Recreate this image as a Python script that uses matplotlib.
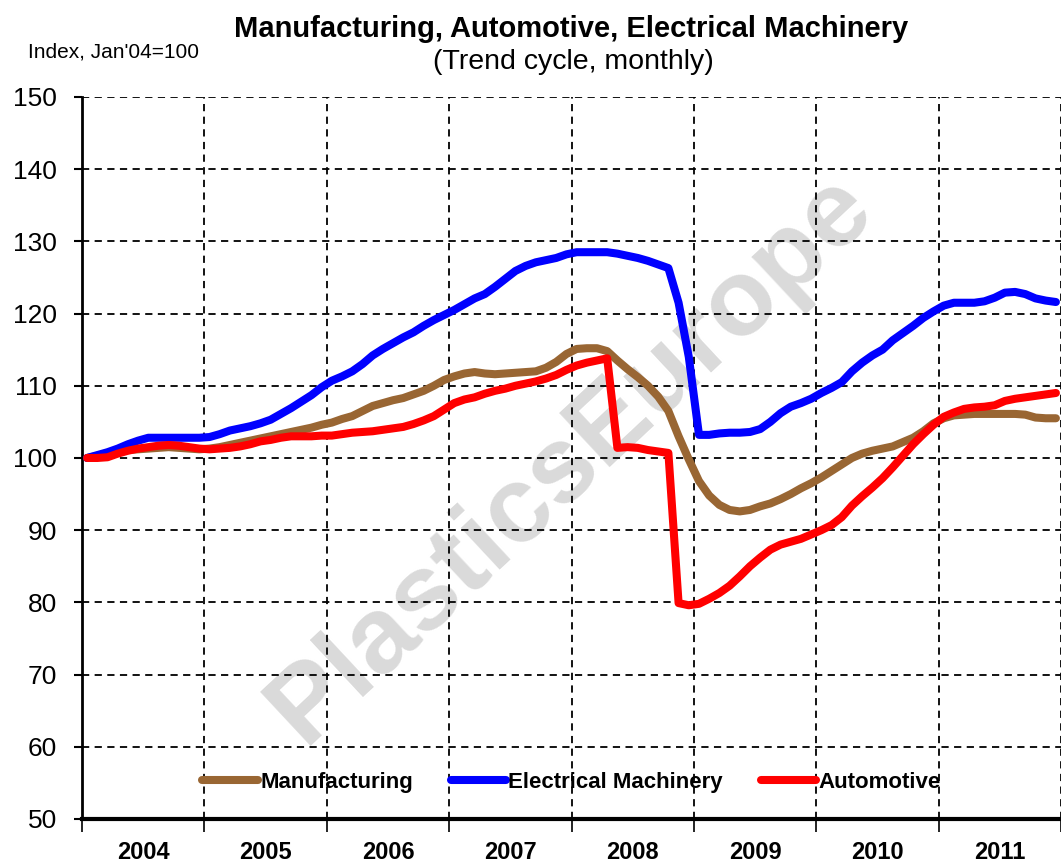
import matplotlib.pyplot as plt
import numpy as np

plt.rcParams['font.family'] = ['Liberation Sans', 'DejaVu Sans']

years = ['2004', '2005', '2006', '2007', '2008', '2009', '2010', '2011']

# monthly index values, Jan 2004 .. Dec 2011 (Jan'04 = 100)
manufacturing = [
    100, 100.3, 100.6, 100.9, 101.1, 101.2, 101.3, 101.4, 101.5, 101.4, 101.3, 101.2,
    101.3, 101.5, 101.8, 102.1, 102.4, 102.7, 103, 103.3, 103.6, 103.9, 104.2, 104.6,
    104.9, 105.4, 105.8, 106.5, 107.2, 107.6, 108, 108.3, 108.8, 109.3, 110, 110.8,
    111.3, 111.7, 111.9, 111.7, 111.6, 111.7, 111.8, 111.9, 112, 112.5, 113.3, 114.4,
    115.1, 115.2, 115.2, 114.8, 113.5, 112.3, 111.2, 110, 108.5, 106.5, 103, 99.8,
    96.8, 94.8, 93.5, 92.8, 92.6, 92.8, 93.3, 93.7, 94.3, 95, 95.8, 96.5,
    97.3, 98.2, 99.1, 100, 100.6, 101, 101.3, 101.6, 102.2, 102.8, 103.7, 104.8,
    105.5, 105.9, 106, 106.1, 106.1, 106.1, 106.1, 106.1, 106, 105.6, 105.5, 105.5,
]
electrical = [
    100, 100.4, 100.8, 101.3, 101.9, 102.4, 102.8, 102.8, 102.8, 102.8, 102.8, 102.8,
    102.9, 103.3, 103.8, 104.1, 104.4, 104.8, 105.3, 106.1, 106.9, 107.8, 108.7, 109.8,
    110.7, 111.3, 112, 113, 114.2, 115.1, 115.9, 116.7, 117.4, 118.3, 119.1, 119.8,
    120.5, 121.3, 122.1, 122.7, 123.7, 124.8, 125.9, 126.6, 127.1, 127.4, 127.7, 128.2,
    128.5, 128.5, 128.5, 128.5, 128.3, 128, 127.7, 127.3, 126.8, 126.3, 121.5, 114,
    103.2, 103.2, 103.4, 103.5, 103.5, 103.6, 104, 105, 106.2, 107.1, 107.6, 108.2,
    109, 109.7, 110.5, 112, 113.2, 114.2, 115, 116.3, 117.3, 118.3, 119.4, 120.3,
    121.1, 121.5, 121.5, 121.5, 121.7, 122.2, 122.9, 123, 122.7, 122.1, 121.8, 121.6,
]
automotive = [
    100, 100, 100.1, 100.6, 101, 101.3, 101.5, 101.7, 101.8, 101.7, 101.5, 101.3,
    101.2, 101.3, 101.4, 101.6, 101.9, 102.3, 102.5, 102.8, 103, 103, 103, 103.1,
    103.1, 103.3, 103.5, 103.6, 103.7, 103.9, 104.1, 104.3, 104.7, 105.2, 105.8, 106.7,
    107.6, 108.1, 108.4, 108.9, 109.3, 109.6, 110, 110.3, 110.6, 111, 111.5, 112.2,
    112.8, 113.2, 113.5, 113.8, 101.4, 101.5, 101.4, 101.1, 100.9, 100.7, 79.9, 79.6,
    79.8, 80.5, 81.3, 82.3, 83.6, 85, 86.2, 87.3, 88, 88.4, 88.8, 89.4,
    90, 90.7, 91.8, 93.4, 94.7, 95.9, 97.2, 98.7, 100.3, 101.9, 103.3, 104.6,
    105.7, 106.3, 106.8, 107, 107.1, 107.3, 107.9, 108.2, 108.4, 108.6, 108.8, 109,
]

months = np.arange(len(manufacturing)) + 0.5

fig = plt.figure(figsize=(10.61, 8.65), dpi=100)
ax = fig.add_axes([0.0773, 0.0532, 0.9227, 0.8347])

ax.text(0.5, 0.5, 'PlasticsEurope', transform=ax.transAxes, fontsize=78,
        fontweight='bold', color='#dadada', rotation=43, ha='center', va='center',
        zorder=0)

ax.plot(months, manufacturing, color='#996633', lw=5.8, label='Manufacturing',
        solid_capstyle='round', solid_joinstyle='round', zorder=3)
ax.plot(months, electrical, color='#0000ff', lw=5.8, label='Electrical Machinery',
        solid_capstyle='round', solid_joinstyle='round', zorder=3)
ax.plot(months, automotive, color='#ff0000', lw=5.8, label='Automotive',
        solid_capstyle='round', solid_joinstyle='round', zorder=4)

ax.set_xlim(0, 96)
ax.set_ylim(50, 150)
ax.set_yticks(np.arange(50, 151, 10))
ax.set_xticks(np.arange(0, 97, 12))
ax.set_xticklabels([])
ax.set_xticks(np.arange(6, 96, 12), minor=True)
ax.set_xticklabels(years, minor=True, fontsize=17, fontweight='bold')
ax.tick_params(axis='x', which='minor', length=0, pad=16)
ax.tick_params(axis='x', which='major', length=9, width=1.2, direction='out')
ax.tick_params(axis='y', labelsize=19, length=6, width=1.5, direction='out', pad=12)

ax.grid(True, which='major', color='black', linestyle=(0, (4, 3)), linewidth=1.3)
ax.set_axisbelow(True)
for s in ['top', 'right']:
    ax.spines[s].set_visible(False)
ax.spines['left'].set_linewidth(2)
ax.spines['bottom'].set_linewidth(3)
ax.spines['bottom'].set_zorder(5)

leg = ax.legend(loc='center', bbox_to_anchor=(0.5, 0.051), ncol=3, frameon=False,
                prop={'weight': 'bold', 'size': 16}, handlelength=2.5,
                handletextpad=0.1, columnspacing=1.7)

fig.text(0.538, 0.967, 'Manufacturing, Automotive, Electrical Machinery',
         ha='center', va='center', fontsize=21, fontweight='bold')
fig.text(0.54, 0.928, '(Trend cycle, monthly)', ha='center', va='center', fontsize=20.5)
fig.text(0.026, 0.94, "Index, Jan'04=100", ha='left', va='center', fontsize=15)

fig.savefig('out.png', dpi=100)
